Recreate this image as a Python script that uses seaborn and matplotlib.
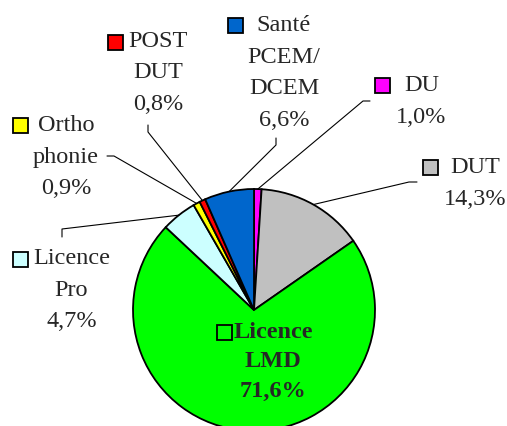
import matplotlib
matplotlib.use("Agg")
import numpy as np
import matplotlib.pyplot as plt
import seaborn as sns
from matplotlib.patches import Rectangle

# Data (clockwise from 12 o'clock)
categories = ["DU", "DUT", "Licence\nLMD", "Licence\nPro", "Ortho\nphonie", "POST\nDUT", "Santé\nPCEM/\nDCEM"]
shares = [1.0, 14.3, 71.6, 4.7, 0.9, 0.8, 6.6]
share_labels = ["1,0%", "14,3%", "71,6%", "4,7%", "0,9%", "0,8%", "6,6%"]
colors = ["#FF00FF", "#C0C0C0", "#00FF00", "#CCFFFF", "#FFFF00", "#FF0000", "#0066CC"]

sns.set_style("white")
plt.rcParams["font.family"] = ["Liberation Serif", "DejaVu Serif"]

W, H = 507, 427
fig = plt.figure(figsize=(W / 100, H / 100), dpi=100)
ax = fig.add_axes([0, 0, 1, 1])

cx, cy, R = 254, H - 311, 121
wedges, _ = ax.pie(shares, colors=colors, startangle=90, counterclock=False,
                   center=(cx, cy), radius=R,
                   wedgeprops=dict(edgecolor="black", linewidth=1.3))

# label layout in pixels from the top-left corner: text centre, key centre, leader start
layout = [
    dict(text=(421.5, 101.5), key=(382.5, 86.5), lead=[(370, 102), (363, 102)]),
    dict(text=(475, 183.5), key=(430.5, 168), lead=[(417, 183), (409, 183)]),
    dict(text=(273, 362), key=(224.5, 333), lead=None),
    dict(text=(71.5, 290), key=(20, 260), lead=[(62, 238), (62, 230)]),
    dict(text=(66, 157), key=(20, 126), lead=[(107, 157), (114, 157)]),
    dict(text=(158, 73), key=(115.5, 43), lead=[(148, 126), (148, 133)]),
    dict(text=(284, 73), key=(235.5, 26.5), lead=[(276, 139), (276, 146)]),
]

for w, cat, pct, col, lay in zip(wedges, categories, share_labels, colors, layout):
    bold = lay["lead"] is None
    tx, ty = lay["text"]
    ax.text(tx, H - ty, f"{cat}\n{pct}", ha="center", va="center", multialignment="center",
            fontsize=17.5, fontweight="bold" if bold else "normal",
            linespacing=1.55 if bold else 1.66)
    kx, ky = lay["key"]
    ax.add_patch(Rectangle((kx - 7.5, H - ky - 7.5), 15, 15, facecolor=col,
                           edgecolor="black", linewidth=1.3, zorder=5))
    if lay["lead"] is not None:
        mid = np.deg2rad((w.theta1 + w.theta2) / 2)
        ex, ey = cx + R * np.cos(mid), cy + R * np.sin(mid)
        xs = [p[0] for p in lay["lead"]] + [ex]
        ys = [H - p[1] for p in lay["lead"]] + [ey]
        ax.plot(xs, ys, color="black", linewidth=0.8)

ax.set_xlim(0, W)
ax.set_ylim(0, H)
ax.set_aspect("auto")
ax.axis("off")

fig.savefig("out.png", dpi=100)
